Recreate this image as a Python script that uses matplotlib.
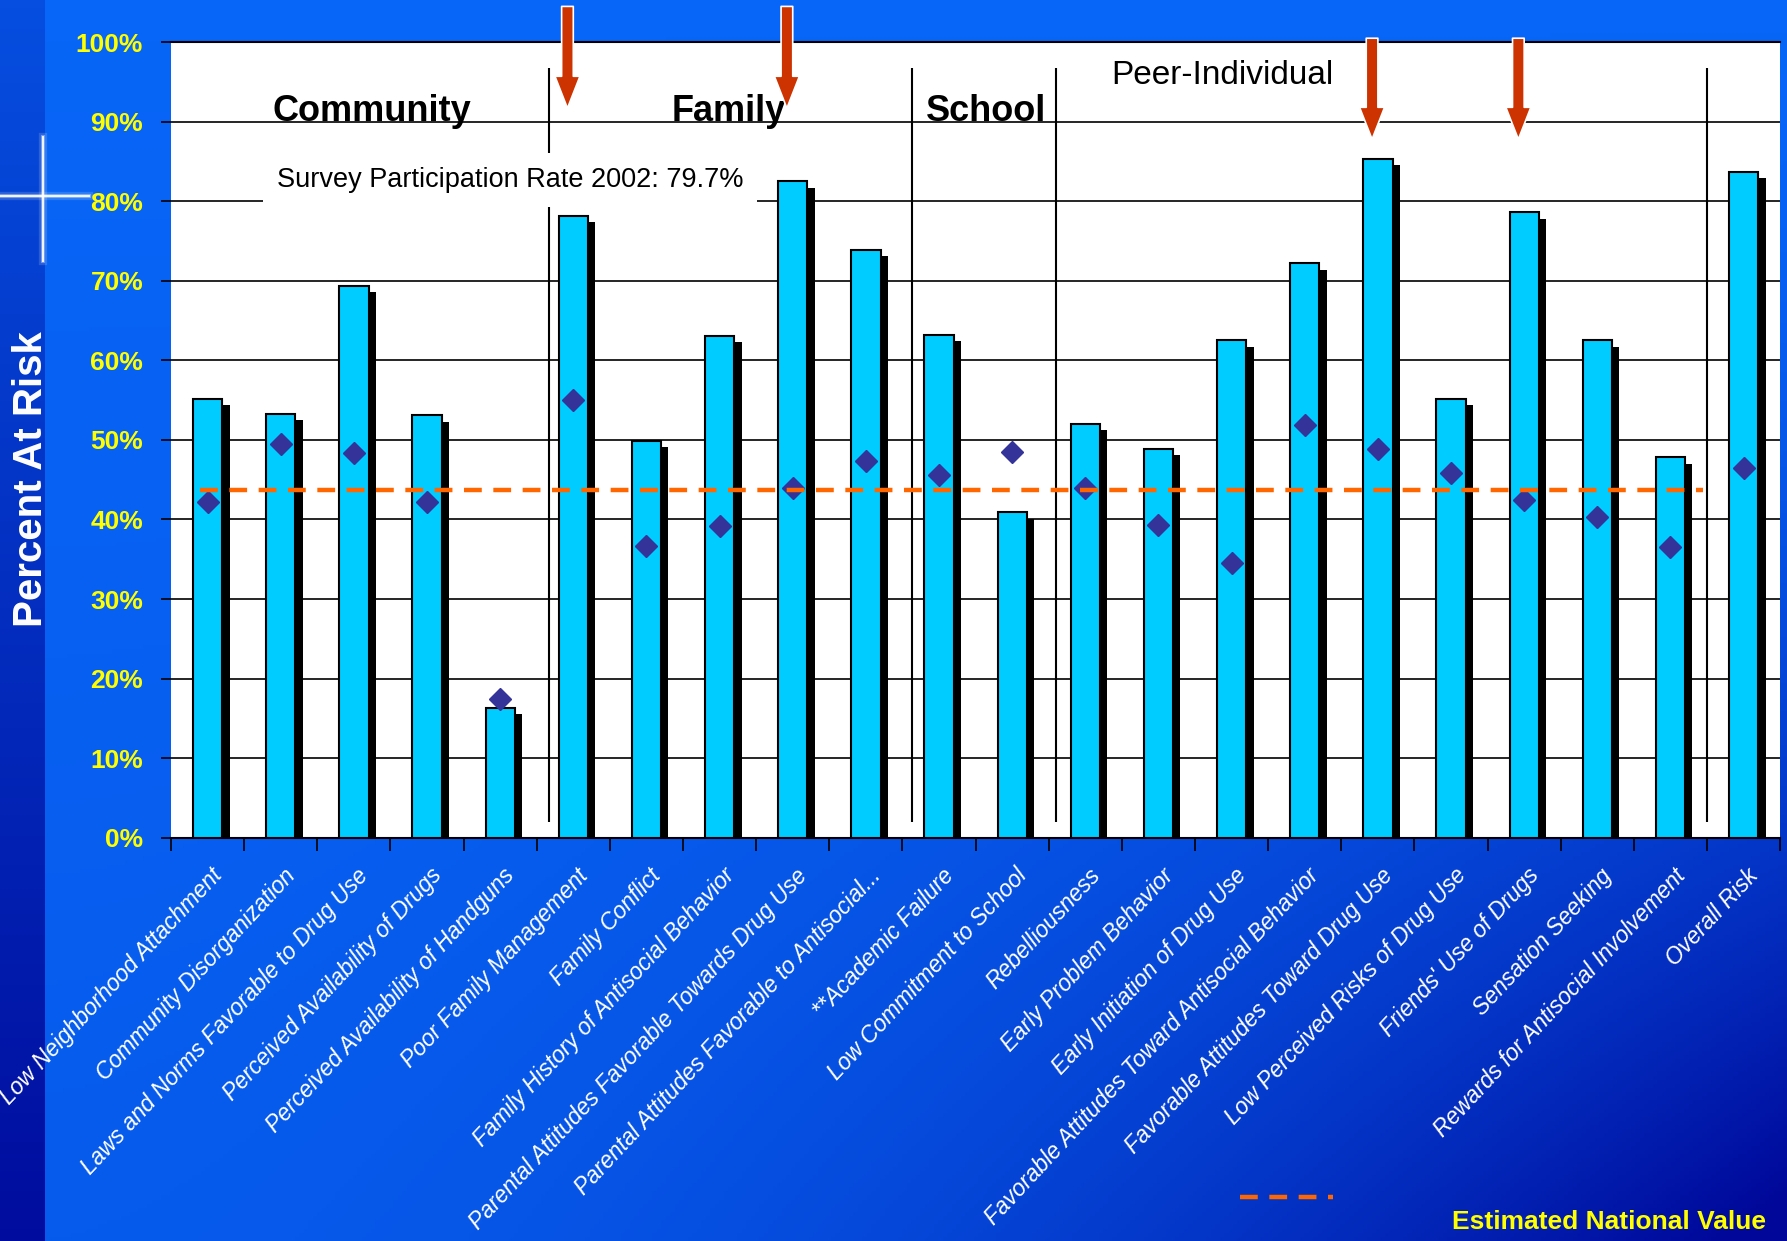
import numpy as np
import matplotlib
matplotlib.use('Agg')
from matplotlib import pyplot as plt
from matplotlib.lines import Line2D
from matplotlib import transforms

# risk factor scales, 2002 survey
categories = ['Low Neighborhood Attachment', 'Community Disorganization',
              'Laws and Norms Favorable to Drug Use', 'Perceived Availability of Drugs',
              'Perceived Availability of Handguns', 'Poor Family Management',
              'Family Conflict', 'Family History of Antisocial Behavior',
              'Parental Attitudes Favorable Towards Drug Use',
              'Parental Attitudes Favorable to Antisocial...', '**Academic Failure',
              'Low Commitment to School', 'Rebelliousness', 'Early Problem Behavior',
              'Early Initiation of Drug Use', 'Favorable Attitudes Toward Antisocial Behavior',
              'Favorable Attitudes Toward Drug Use', 'Low Perceived Risks of Drug Use',
              "Friends' Use of Drugs", 'Sensation Seeking',
              'Rewards for Antisocial Involvement', 'Overall Risk']
percent_at_risk = [55.2, 53.3, 69.4, 53.1, 16.3, 78.2, 49.9, 63.1, 82.5, 73.9, 63.2,
                   40.9, 52.0, 48.9, 62.5, 72.2, 85.3, 55.2, 78.6, 62.5, 47.8, 83.7]
comparison = [42.2, 49.5, 48.3, 42.2, 17.4, 55.0, 36.7, 39.2, 43.9, 47.3, 45.6,
              48.5, 44.0, 39.3, 34.5, 51.9, 48.8, 45.9, 42.5, 40.3, 36.5, 46.5]
national_value = 43.7
sections = ['Community', 'Family', 'School', 'Peer-Individual']
section_breaks = [4.67, 9.63, 11.6, 20.5]
highlighted = [5, 8, 16, 18]
participation = 'Survey Participation Rate 2002: 79.7%'

plt.rcParams['font.family'] = ['Liberation Sans', 'DejaVu Sans']

fig = plt.figure(figsize=(17.87, 12.41), dpi=100)

# blue slide background
u, v = np.meshgrid(np.linspace(0, 1, 400), np.linspace(0, 1, 300))
t = np.clip(0.12 * v + 0.95 * (u ** 2.2) * (v ** 2.0), 0, 1)
strip = u < 0.024
t[strip] = np.clip(0.25 + 0.7 * v[strip], 0, 1)
light = np.array([0.03, 0.40, 0.97])
dark = np.array([0.0, 0.03, 0.60])
grad = light * (1 - t[..., None]) + dark * t[..., None]
bg = fig.add_axes([0, 0, 1, 1], zorder=-10)
bg.imshow(grad, aspect='auto', extent=[0, 1, 0, 1], origin='upper')
bg.axis('off')

# sparkle on the left strip
for lw, a in [(6, 0.15), (3, 0.35), (1.5, 0.9)]:
    fig.add_artist(Line2D([0.0, 0.05], [0.842, 0.842], color='white', lw=lw, alpha=a))
    fig.add_artist(Line2D([0.0242, 0.0242], [0.79, 0.89], color='white', lw=lw, alpha=a))

ax = fig.add_axes([0.0957, 0.325, 0.9005, 0.641])
ax.set_facecolor('white')
x = np.arange(len(categories))
ax.set_xlim(-0.5, len(categories) - 0.5)
ax.set_ylim(0, 100)

ax.set_yticks(range(0, 101, 10))
ax.set_yticklabels(['%d%%' % p for p in range(0, 101, 10)], color='#FFFF00',
                   fontsize=19, fontweight='bold')
ax.tick_params(axis='y', length=7, width=1.2, color='black', pad=13)
ax.yaxis.grid(True, color='black', lw=1.2)
ax.set_axisbelow(True)
for s in ['left', 'right']:
    ax.spines[s].set_visible(False)
ax.spines['top'].set_linewidth(1.5)
ax.spines['bottom'].set_linewidth(1.5)

ax.set_xticks(x)
ax.set_xticklabels([])
ax.tick_params(axis='x', which='major', length=0)
ax.set_xticks(np.arange(-0.5, len(categories)), minor=True)
ax.tick_params(axis='x', which='minor', length=9, width=1.2, color='black')

# bars with drop shadow
ax.bar(x + 0.1, np.array(percent_at_risk) - 0.8, width=0.4, color='black', zorder=2)
ax.bar(x, percent_at_risk, width=0.4, color='#00CCFF', edgecolor='black', lw=1.5, zorder=3)
ax.plot(x, comparison, 'D', color='#333399', ms=11, zorder=5, clip_on=False)
ax.hlines(national_value, -0.1, section_breaks[-1] - 0.05, colors='#FF6600', lw=3.2,
          linestyles=(0, (4, 2.6)), zorder=6)

ax.vlines(section_breaks, 2, 96.7, colors='black', lw=1.5, zorder=2)

title_pos = [(2.24, 91.3), (7.13, 91.3), (10.64, 91.3), (13.88, 95.8)]
for name, (tx, ty) in zip(sections, title_pos):
    if name == 'Peer-Individual':
        ax.text(tx, ty, name, ha='center', va='center', fontsize=24, zorder=7)
    else:
        ax.text(tx, ty, name, ha='center', va='center', fontsize=26, fontweight='bold',
                zorder=7)

ax.text(4.14, 82.7, participation, ha='center', va='center', fontsize=19.5,
        zorder=4, bbox=dict(facecolor='white', edgecolor='none', pad=10))

arrow_top = [104.5, 104.5, 100.5, 100.5]
arrow_tip = [91.7, 91.7, 87.8, 87.8]
for i, y0, y1 in zip(highlighted, arrow_top, arrow_tip):
    ax.annotate('', xy=(i - 0.08, y1), xytext=(i - 0.08, y0), annotation_clip=False,
                arrowprops=dict(arrowstyle='simple,head_width=0.9,head_length=1.15,tail_width=0.42',
                                mutation_scale=20, fc='#CC3300', ec='white', lw=1.2,
                                shrinkA=0, shrinkB=0), zorder=8)

trans = transforms.blended_transform_factory(ax.transData, ax.transAxes)
for i, label in enumerate(categories):
    ax.text(i + 0.15, -0.043, label, transform=trans, rotation=47, ha='right', va='center',
            rotation_mode='anchor', color='white', fontsize=16.5, style='italic', clip_on=False)

fig.text(0.0172, 0.614, 'Percent At Risk', rotation=90, ha='center', va='center',
         color='white', fontsize=29, fontweight='bold')

# legend
fig.add_artist(Line2D([0.694, 0.746], [0.0358, 0.0358], color='#FF6600', lw=3.2,
                      linestyle=(0, (4, 2.6))))
fig.text(0.9885, 0.0156, 'Estimated National Value', ha='right', va='center',
         color='#FFFF00', fontsize=19, fontweight='bold')

fig.savefig('out.png', dpi=100)
